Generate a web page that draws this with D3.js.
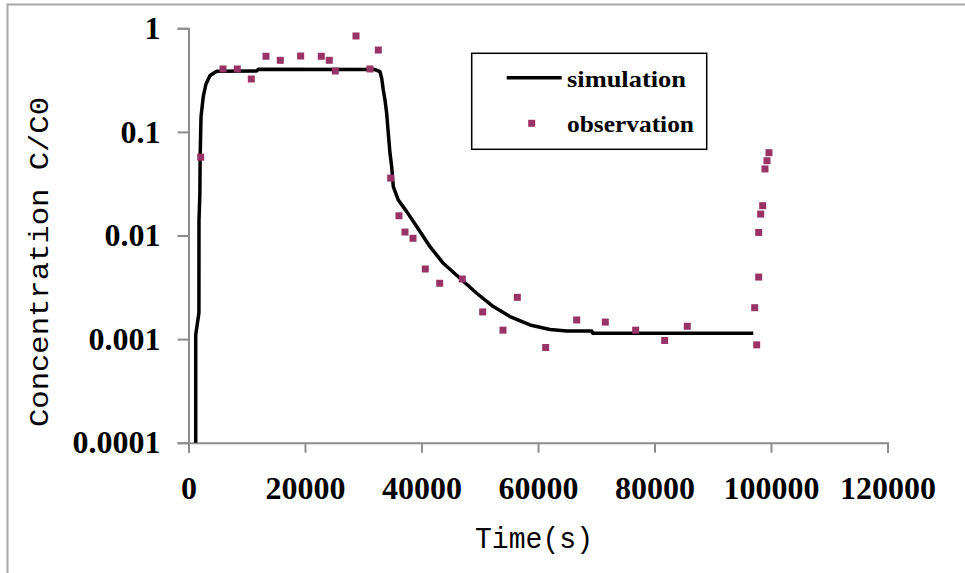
<!DOCTYPE html>
<html>
<head>
<meta charset="utf-8">
<script src="https://cdn.jsdelivr.net/npm/d3@7/dist/d3.min.js"></script>
<style>
  html, body { margin: 0; padding: 0; background: #fff; }
  svg { display: block; }
</style>
</head>
<body>
<svg id="chart" width="965" height="573"></svg>
<script>
// Simulated breakthrough curve: time (s) and relative concentration C/C0
const simTime = [1240, 1240, 1790, 1800, 1950, 2000, 2150, 2540, 3000, 3700, 4850, 11700, 12000,
  32000, 32875, 33167, 33441, 33733, 34025, 34300, 34592, 34883, 35158, 36017, 37458, 39175,
  41458, 43742, 46608, 49475, 52325, 55192, 58625, 62058, 64925, 69217, 69400, 96959];
const simConc = [0.0001, 0.0011, 0.0018, 0.014, 0.025, 0.058, 0.14, 0.22, 0.29, 0.35, 0.385, 0.387, 0.402,
  0.400, 0.381, 0.329, 0.254, 0.203, 0.151, 0.097, 0.0621, 0.0461, 0.0296, 0.0220, 0.0170, 0.0122,
  0.0078, 0.00539, 0.00387, 0.00277, 0.00206, 0.00165, 0.00137, 0.00124, 0.00120, 0.00120, 0.00114, 0.00114];

// Measured concentrations
const obsTime = [2094, 5923, 8378, 10781, 13304, 15760, 19261, 22798, 24172, 25202, 28755, 31158, 32585,
  34711, 36137, 37167, 38540, 40652, 43124, 47004, 50505, 53990, 56447, 61320,
  66642, 71556, 76766, 81749, 85628, 97200, 97543, 97886, 97886, 98229, 98572, 98967, 99310, 99654];
const obsConc = [0.057, 0.405, 0.405, 0.324, 0.537, 0.491, 0.540, 0.537, 0.491, 0.387, 0.843, 0.405, 0.617,
  0.0358, 0.0155, 0.0108, 0.0094, 0.00475, 0.00346, 0.00380, 0.00183, 0.00122, 0.00253, 0.00083,
  0.00153, 0.00146, 0.00122, 0.00097, 0.00133, 0.00201, 0.00088, 0.00397, 0.0107, 0.0161, 0.0194, 0.0439, 0.0527, 0.0630];

const xTicks = [0, 20000, 40000, 60000, 80000, 100000, 120000];
const yTicks = [1, 0.1, 0.01, 0.001, 0.0001];
const yTickLabels = ["1", "0.1", "0.01", "0.001", "0.0001"];
const seriesNames = ["simulation", "observation"];

const svg = d3.select("#chart");
const axisGrey = "#8c8c8c";
const markColor = "#993366";

// Outer frame (top and left edges)
svg.append("path")
  .attr("d", "M7.5,573V4.5H965")
  .attr("fill", "none")
  .attr("stroke", "#a6a6a6")
  .attr("stroke-width", 2);

const x = d3.scaleLinear().domain([0, 120000]).range([188.5, 887.5]);
const y = d3.scaleLog().domain([0.0001, 1]).range([442.7, 28.3]);

// X axis
const xAxis = svg.append("g")
  .attr("transform", `translate(0,${y(0.0001)})`)
  .call(d3.axisBottom(x).tickValues(xTicks).tickSize(10).tickSizeOuter(10).tickPadding(24)
    .tickFormat(d => String(d)));

// Y axis
const yAxis = svg.append("g")
  .attr("transform", `translate(${x(0)},0)`)
  .call(d3.axisLeft(y).tickValues(yTicks).tickSize(11).tickSizeOuter(11).tickPadding(17)
    .tickFormat((d, i) => yTickLabels[i]));

[xAxis, yAxis].forEach(g => {
  g.select(".domain").attr("stroke", axisGrey).attr("stroke-width", 2);
  g.selectAll(".tick line").attr("stroke", axisGrey).attr("stroke-width", 2);
  g.selectAll(".tick text")
    .attr("fill", "#000")
    .style("font-family", "'Liberation Serif', 'Times New Roman', serif")
    .style("font-weight", "bold")
    .style("font-size", "32px");
});

// Axis titles
svg.append("text")
  .attr("x", 475).attr("y", 548)
  .attr("textLength", 118).attr("lengthAdjust", "spacingAndGlyphs")
  .style("font-family", "'Liberation Mono', 'Courier New', monospace")
  .style("font-size", "29px")
  .text("Time(s)");

svg.append("text")
  .attr("transform", "translate(48,262) rotate(-90)")
  .attr("text-anchor", "middle")
  .attr("textLength", 330).attr("lengthAdjust", "spacingAndGlyphs")
  .style("font-family", "'Liberation Mono', 'Courier New', monospace")
  .style("font-size", "27px")
  .text("Concentration C/C0");

// Simulation line
const simData = simTime.map((t, i) => [t, simConc[i]]);
svg.append("path")
  .datum(simData)
  .attr("fill", "none")
  .attr("stroke", "#000")
  .attr("stroke-width", 3.5)
  .attr("stroke-linejoin", "round")
  .attr("d", d3.line().x(d => x(d[0])).y(d => y(d[1])));

// Observation markers
const obsData = obsTime.map((t, i) => [t, obsConc[i]]);
const ms = 7;
svg.append("g").selectAll("rect")
  .data(obsData)
  .join("rect")
  .attr("x", d => x(d[0]) - ms / 2)
  .attr("y", d => y(d[1]) - ms / 2)
  .attr("width", ms).attr("height", ms)
  .attr("fill", markColor);

// Legend
const legend = svg.append("g");
legend.append("rect")
  .attr("x", 471.7).attr("y", 53.3).attr("width", 235).attr("height", 96)
  .attr("fill", "#fff").attr("stroke", "#000").attr("stroke-width", 1.5);
legend.append("line")
  .attr("x1", 506.7).attr("x2", 561.7).attr("y1", 77.7).attr("y2", 77.7)
  .attr("stroke", "#000").attr("stroke-width", 3.5);
legend.append("rect")
  .attr("x", 531.7 - ms / 2).attr("y", 123.3 - ms / 2).attr("width", ms).attr("height", ms)
  .attr("fill", markColor);
const legendText = [[86.7, 119], [131.7, 127]];
legend.selectAll("text.lg")
  .data(seriesNames)
  .join("text")
  .attr("class", "lg")
  .attr("x", 567)
  .attr("y", (d, i) => legendText[i][0])
  .attr("textLength", (d, i) => legendText[i][1])
  .attr("lengthAdjust", "spacingAndGlyphs")
  .style("font-family", "'Liberation Serif', 'Times New Roman', serif")
  .style("font-weight", "bold")
  .style("font-size", "24px")
  .text(d => d);
</script>
</body>
</html>
